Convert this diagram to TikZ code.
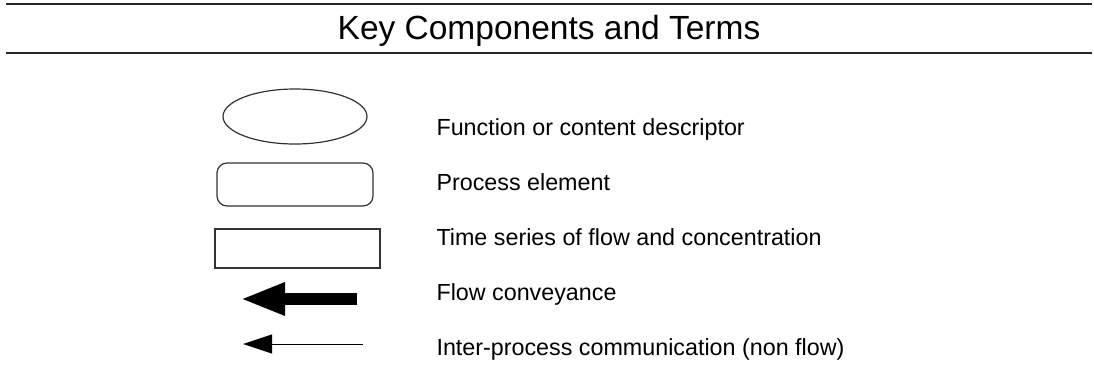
\documentclass[tikz,border=0pt]{standalone}
\usepackage{fontspec}
\setmainfont{Liberation Sans}
\usetikzlibrary{shapes.geometric,arrows.meta}

\begin{document}
\begin{tikzpicture}[%
    x=1pt, y=-1pt,              % Work in pixels of the legend sheet
    line join=miter,
    ]
% -------------------------------------------------
% A few styles for the legend
\tikzset{
  rule/.style={line width=1.6pt, black!85},
  shapebox/.style={draw=black!80, line width=1.2pt, inner sep=0pt},
  oval/.style={shapebox, ellipse, minimum width=144pt, minimum height=55pt},
  proc/.style={shapebox, rectangle, rounded corners=10pt,
    minimum width=156pt, minimum height=43pt},
  series/.style={shapebox, rectangle, minimum width=165pt, minimum height=39pt},
  % Connector styles
  flow/.style={line width=12pt, -{Triangle[length=45pt,width=30pt]}},
  comm/.style={line width=1pt, -{Triangle[length=29pt,width=19pt]}},
  term/.style={anchor=base west, font=\fontsize{23.3}{26}\selectfont},
  head/.style={anchor=base, font=\fontsize{33.5}{36}\selectfont}
}
\useasboundingbox (0,0) rectangle (1094,365);
% -------------------------------------------------
% Title between two rules
\coordinate (tl) at (6,4);
\coordinate (tr) at (1092,4);
\coordinate (bl) at (6,53);
\coordinate (br) at (1092,53);
\draw[rule] (tl) -- (tr);
\draw[rule] (bl) -- (br);
\node[head] (title) at (549,39) {Key Components and Terms};

% -------------------------------------------------
% Symbols
\node[oval] (func) at (295,116.5) {};
\node[proc] (elem) at (295,184.5) {};
\node[series] (tser) at (297.5,248.5) {};
\coordinate (flowS) at (357,299);
\coordinate (flowE) at (240,299);
\coordinate (commS) at (363,344);
\coordinate (commE) at (243,344);
\draw[flow] (flowS) -- (flowE);
\draw[comm] (commS) -- (commE);

% -------------------------------------------------
% Terms
\node[term] (tfunc) at (433,135.5) {Function or content descriptor};
\node[term] (telem) at (433,190.5) {Process element};
\node[term] (ttser) at (433,245.5) {Time series of flow and concentration};
\node[term] (tflow) at (433,300.5) {Flow conveyance};
\node[term] (tcomm) at (433,355.5) {Inter-process communication (non flow)};
% -------------------------------------------------
\end{tikzpicture}
\end{document}
